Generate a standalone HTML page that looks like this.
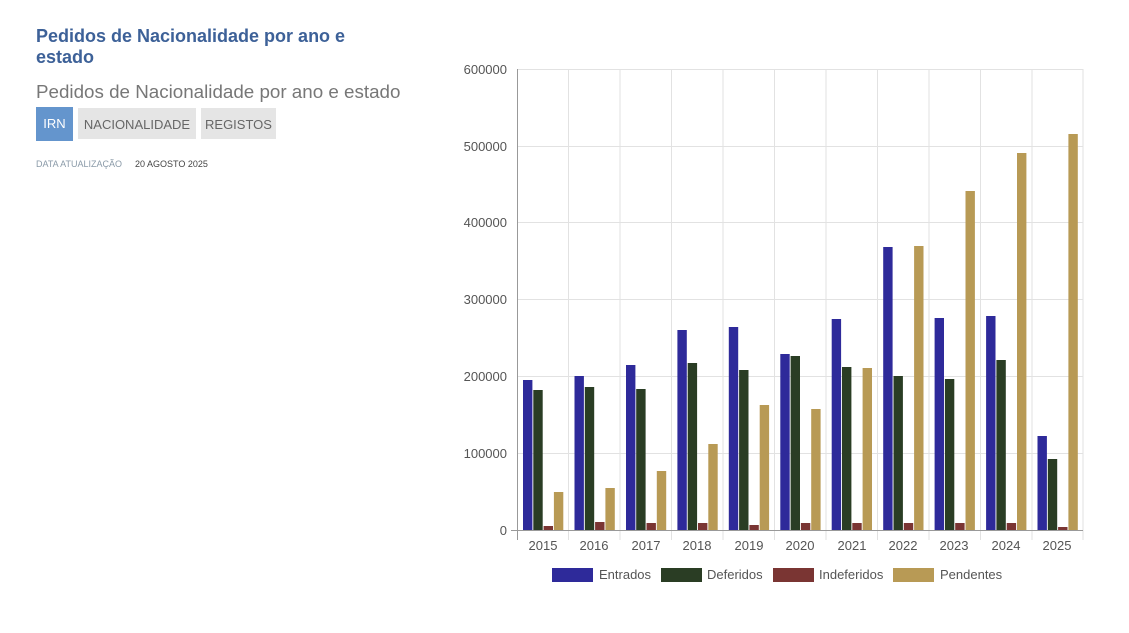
<!DOCTYPE html>
<html><head><meta charset="utf-8"><style>
body{margin:0;width:1129px;height:633px;background:#fff;font-family:"Liberation Sans",sans-serif;position:relative;overflow:hidden}
.t1{position:absolute;left:36px;top:26px;width:330px;font-size:18px;font-weight:bold;color:#3d6198;line-height:21px}
.t2{position:absolute;left:36px;top:81px;font-size:18.8px;color:#777}
.btn{position:absolute;top:108px;height:31px;line-height:33px;font-size:13px;color:#666;background:#e5e5e5;text-align:center}
.d{position:absolute;top:159px;font-size:9px}
</style></head><body>
<div class="t1">Pedidos de Nacionalidade por ano e estado</div>
<div class="t2">Pedidos de Nacionalidade por ano e estado</div>
<div class="btn" style="left:36px;width:37px;top:107px;height:34px;background:#6495cd;color:#fff">IRN</div>
<div class="btn" style="left:78px;width:118px">NACIONALIDADE</div>
<div class="btn" style="left:201px;width:75px">REGISTOS</div>
<div class="d" style="left:36px;color:#8a9aa8">DATA ATUALIZAÇÃO</div>
<div class="d" style="left:135px;color:#444">20 AGOSTO 2025</div>
<svg width="1129" height="633" style="position:absolute;left:0;top:0" font-family="Liberation Sans, sans-serif">
<g stroke="#e2e2e2" stroke-width="1">
<line x1="517" y1="69.5" x2="1083" y2="69.5"/><line x1="517" y1="146.5" x2="1083" y2="146.5"/><line x1="517" y1="222.5" x2="1083" y2="222.5"/><line x1="517" y1="299.5" x2="1083" y2="299.5"/><line x1="517" y1="376.5" x2="1083" y2="376.5"/><line x1="517" y1="453.5" x2="1083" y2="453.5"/>
<line x1="568.5" y1="69" x2="568.5" y2="540"/><line x1="620" y1="69" x2="620" y2="540"/><line x1="671.5" y1="69" x2="671.5" y2="540"/><line x1="723" y1="69" x2="723" y2="540"/><line x1="774.5" y1="69" x2="774.5" y2="540"/><line x1="826" y1="69" x2="826" y2="540"/><line x1="877.5" y1="69" x2="877.5" y2="540"/><line x1="929" y1="69" x2="929" y2="540"/><line x1="980.5" y1="69" x2="980.5" y2="540"/><line x1="1032" y1="69" x2="1032" y2="540"/><line x1="1083" y1="69" x2="1083" y2="540"/>
</g>
<line x1="517.5" y1="69" x2="517.5" y2="540" stroke="#999"/>
<line x1="511" y1="530.5" x2="1083" y2="530.5" stroke="#999"/>
<g font-size="13" fill="#555" text-anchor="end">
<text x="507" y="74">600000</text><text x="507" y="151">500000</text><text x="507" y="227">400000</text><text x="507" y="304">300000</text><text x="507" y="381">200000</text><text x="507" y="458">100000</text><text x="507" y="535">0</text>
</g>
<g font-size="13" fill="#555" text-anchor="middle">
<text x="543" y="550">2015</text><text x="594" y="550">2016</text><text x="646" y="550">2017</text><text x="697" y="550">2018</text><text x="749" y="550">2019</text><text x="800" y="550">2020</text><text x="852" y="550">2021</text><text x="903" y="550">2022</text><text x="954" y="550">2023</text><text x="1006" y="550">2024</text><text x="1057" y="550">2025</text>
</g>
<g fill="#2e2a9a">
<rect x="523" y="380" width="9.4" height="150"/><rect x="574.5" y="376" width="9.4" height="154"/><rect x="626" y="365" width="9.4" height="165"/><rect x="677.4" y="330" width="9.4" height="200"/><rect x="728.8" y="327" width="9.4" height="203"/><rect x="780.3" y="354" width="9.4" height="176"/><rect x="831.7" y="319" width="9.4" height="211"/><rect x="883.2" y="247" width="9.4" height="283"/><rect x="934.6" y="318" width="9.4" height="212"/><rect x="986.1" y="316" width="9.4" height="214"/><rect x="1037.5" y="436" width="9.4" height="94"/>
</g>
<g fill="#2a3d24">
<rect x="533.3" y="390" width="9.4" height="140"/><rect x="584.8" y="387" width="9.4" height="143"/><rect x="636.2" y="389" width="9.4" height="141"/><rect x="687.7" y="363" width="9.4" height="167"/><rect x="739.1" y="370" width="9.4" height="160"/><rect x="790.6" y="356" width="9.4" height="174"/><rect x="842" y="367" width="9.4" height="163"/><rect x="893.5" y="376" width="9.4" height="154"/><rect x="944.9" y="379" width="9.4" height="151"/><rect x="996.4" y="360" width="9.4" height="170"/><rect x="1047.8" y="459" width="9.4" height="71"/>
</g>
<g fill="#7a3533">
<rect x="543.6" y="526" width="9.4" height="4"/><rect x="595.1" y="522" width="9.4" height="8"/><rect x="646.5" y="523" width="9.4" height="7"/><rect x="698" y="523" width="9.4" height="7"/><rect x="749.4" y="525" width="9.4" height="5"/><rect x="800.9" y="523" width="9.4" height="7"/><rect x="852.3" y="523" width="9.4" height="7"/><rect x="903.8" y="523" width="9.4" height="7"/><rect x="955.2" y="523" width="9.4" height="7"/><rect x="1006.7" y="523" width="9.4" height="7"/><rect x="1058.1" y="527" width="9.4" height="3"/>
</g>
<g fill="#b89a55">
<rect x="553.9" y="492" width="9.4" height="38"/><rect x="605.4" y="488" width="9.4" height="42"/><rect x="656.8" y="471" width="9.4" height="59"/><rect x="708.3" y="444" width="9.4" height="86"/><rect x="759.7" y="405" width="9.4" height="125"/><rect x="811.2" y="409" width="9.4" height="121"/><rect x="862.6" y="368" width="9.4" height="162"/><rect x="914.1" y="246" width="9.4" height="284"/><rect x="965.5" y="191" width="9.4" height="339"/><rect x="1017" y="153" width="9.4" height="377"/><rect x="1068.4" y="134" width="9.4" height="396"/>
</g>
<g font-size="13" fill="#555">
<rect x="552" y="568" width="41" height="14" fill="#2e2a9a"/><text x="599" y="579">Entrados</text>
<rect x="661" y="568" width="41" height="14" fill="#2a3d24"/><text x="707" y="579">Deferidos</text>
<rect x="773" y="568" width="41" height="14" fill="#7a3533"/><text x="819" y="579">Indeferidos</text>
<rect x="893" y="568" width="41" height="14" fill="#b89a55"/><text x="940" y="579">Pendentes</text>
</g>
</svg>
</body></html>
